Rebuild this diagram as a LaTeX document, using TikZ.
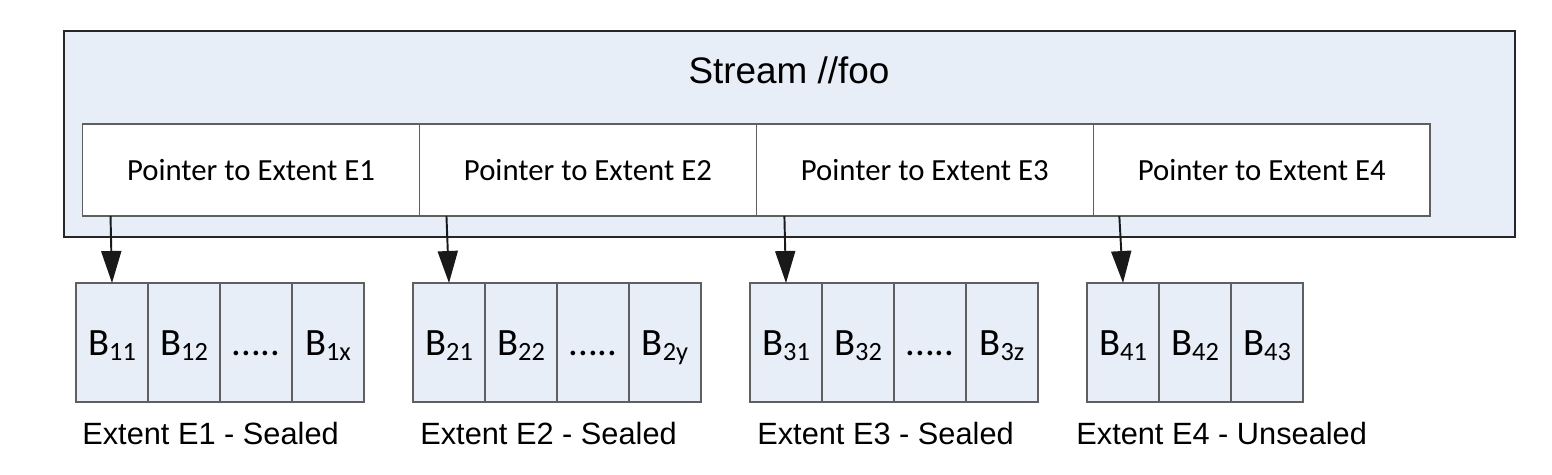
\documentclass[tikz,border=0pt]{standalone}
\usepackage{fontspec}
\setmainfont{Liberation Sans}
\newfontfamily\calibri{Carlito}
\usepackage{tikz}
\usetikzlibrary{arrows.meta, positioning}
\definecolor{streamblue}{RGB}{232,238,247}
\definecolor{cellgray}{RGB}{95,95,95}
\newcommand{\blk}[1]{B\raisebox{-0.11cm}{\fontsize{15}{18}\selectfont #1}}

\begin{document}
\begin{tikzpicture}[
    x=0.02cm, y=-0.02cm,
    node distance=0pt,
    stream/.style={draw=black!85, fill=streamblue, line width=0.9pt, outer sep=0pt, minimum width=29.02cm, minimum height=4.12cm},
    pointer/.style={draw=cellgray, fill=white, line width=0.9pt, outer sep=0pt, minimum width=6.74cm, minimum height=1.84cm, font=\calibri\fontsize{17.5}{21}\selectfont},
    block/.style={draw=cellgray, fill=streamblue, line width=0.9pt, outer sep=0pt, inner sep=0pt, text height=0.6cm, text depth=0.1cm, minimum width=1.44cm, minimum height=2.38cm, font=\calibri\fontsize{22}{26}\selectfont},
    extent/.style={anchor=west, inner sep=0pt, font=\fontsize{17.5}{21}\selectfont},
    arrow/.style={-{Triangle[length=0.64cm, width=0.4cm]}, line width=1.1pt, black!90}
]
\useasboundingbox (0,0) rectangle (1552,474);

% Stream
\node[stream] (stream) at (789.5,134) {};
\node[font=\fontsize{21}{25}\selectfont] (title) at (789,70) {Stream //foo};

% Pointers
\node[pointer] (p1) at (251,170) {Pointer to Extent E1};
\node[pointer, right=of p1] (p2) {Pointer to Extent E2};
\node[pointer, right=of p2] (p3) {Pointer to Extent E3};
\node[pointer, right=of p3] (p4) {Pointer to Extent E4};

% Extent E1
\node[block] (b11) at (112,342.5) {\blk{11}};
\node[block, right=of b11] (b12) {\blk{12}};
\node[block, right=of b12] (b13) {.....};
\node[block, right=of b13] (b14) {\blk{1x}};

% Extent E2
\node[block] (b21) at (449,342.5) {\blk{21}};
\node[block, right=of b21] (b22) {\blk{22}};
\node[block, right=of b22] (b23) {.....};
\node[block, right=of b23] (b24) {\blk{2y}};

% Extent E3
\node[block] (b31) at (786,342.5) {\blk{31}};
\node[block, right=of b31] (b32) {\blk{32}};
\node[block, right=of b32] (b33) {.....};
\node[block, right=of b33] (b34) {\blk{3z}};

% Extent E4
\node[block] (b41) at (1123,342.5) {\blk{41}};
\node[block, right=of b41] (b42) {\blk{42}};
\node[block, right=of b42] (b43) {\blk{43}};

% Labels
\node[extent] (l1) at ([xshift=0.12cm, yshift=-0.64cm]b11.south west) {Extent E1 - Sealed};
\node[extent] (l2) at ([xshift=0.14cm, yshift=-0.64cm]b21.south west) {Extent E2 - Sealed};
\node[extent] (l3) at ([xshift=0.14cm, yshift=-0.64cm]b31.south west) {Extent E3 - Sealed};
\node[extent] (l4) at ([xshift=-0.22cm, yshift=-0.64cm]b41.south west) {Extent E4 - Unsealed};

% Arrows
\draw[arrow] ([xshift=0.56cm]p1.south west) -- (b11.north);
\draw[arrow] ([xshift=0.54cm]p2.south west) -- (b21.north);
\draw[arrow] ([xshift=0.56cm]p3.south west) -- (b31.north);
\draw[arrow] ([xshift=0.52cm]p4.south west) -- (b41.north);

\end{tikzpicture}
\end{document}
